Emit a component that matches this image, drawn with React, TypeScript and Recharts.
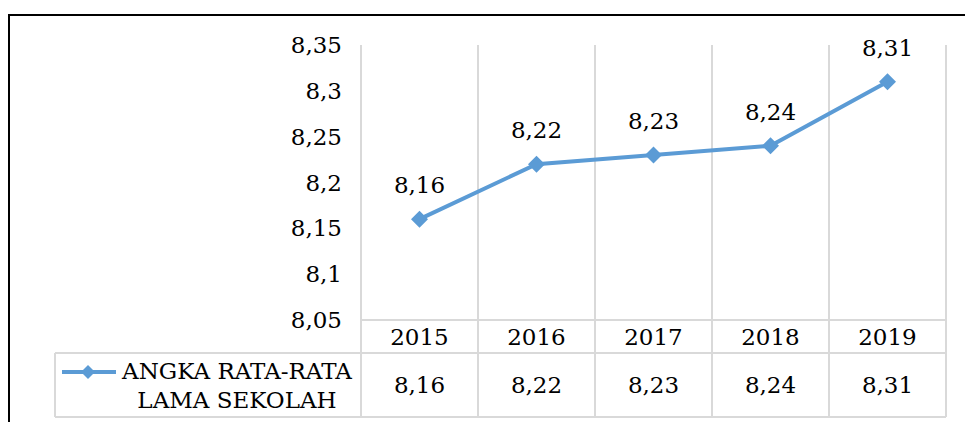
import { LineChart, Line, XAxis, YAxis, LabelList, usePlotArea } from "recharts";

const years = ["2015", "2016", "2017", "2018", "2019"];
const values = [8.16, 8.22, 8.23, 8.24, 8.31];
const yTicks = [8.05, 8.1, 8.15, 8.2, 8.25, 8.3, 8.35];
const legendLines = ["ANGKA RATA-RATA", "LAMA SEKOLAH"];

const data = years.map((year, i) => ({ year, value: values[i] }));

const FONT = "'DejaVu Serif', serif";
const FS = 23;
const BLUE = "#5B9BD5";
const GRID = "#d9d9d9";
const HEAD_ROW = 33;
const VALUE_ROW = 64;
const LEGEND_LEFT = 55;

const fmt = (v: number) => String(v).replace(".", ",");

const Diamond = ({ cx, cy, size = 8.5 }: { cx?: number; cy?: number; size?: number }) => {
  if (cx == null || cy == null) return null;
  return (
    <polygon
      points={`${cx},${cy - size} ${cx + size},${cy} ${cx},${cy + size} ${cx - size},${cy}`}
      fill={BLUE}
    />
  );
};

// year + value cells, placed by the x axis
const TableTick = (props: any) => {
  const { x, y, payload } = props;
  return (
    <g>
      <text x={x} y={y + HEAD_ROW / 2} textAnchor="middle" dominantBaseline="central" fontSize={FS} fill="#000" fontFamily={FONT}>
        {payload.value}
      </text>
      <text x={x} y={y + HEAD_ROW + VALUE_ROW / 2} textAnchor="middle" dominantBaseline="central" fontSize={FS} fill="#000" fontFamily={FONT}>
        {fmt(values[payload.index])}
      </text>
    </g>
  );
};

const TableGrid = () => {
  const area = usePlotArea();
  if (!area) return null;
  const { x, y, width, height } = area;
  const n = years.length;
  const bottom = y + height;
  const cols = Array.from({ length: n + 1 }, (_, i) => x + (i * width) / n);
  return (
    <g>
      {cols.map((cx, i) => (
        <line key={i} x1={cx} x2={cx} y1={y} y2={bottom + HEAD_ROW + VALUE_ROW} stroke={GRID} strokeWidth={2} />
      ))}
      <line x1={x} x2={x + width} y1={bottom} y2={bottom} stroke={GRID} strokeWidth={2} />
      <line x1={LEGEND_LEFT} x2={x + width} y1={bottom + HEAD_ROW} y2={bottom + HEAD_ROW} stroke={GRID} strokeWidth={2} />
      <line x1={LEGEND_LEFT} x2={x + width} y1={bottom + HEAD_ROW + VALUE_ROW} y2={bottom + HEAD_ROW + VALUE_ROW} stroke={GRID} strokeWidth={2} />
      <line x1={LEGEND_LEFT} x2={LEGEND_LEFT} y1={bottom + HEAD_ROW} y2={bottom + HEAD_ROW + VALUE_ROW} stroke={GRID} strokeWidth={2} />
      <line x1={LEGEND_LEFT + 7} x2={LEGEND_LEFT + 61} y1={bottom + 52} y2={bottom + 52} stroke={BLUE} strokeWidth={4} />
      <Diamond cx={LEGEND_LEFT + 33} cy={bottom + 52} size={7} />
      {legendLines.map((t, i) => (
        <text key={t} x={237} y={bottom + 51 + i * 29} textAnchor="middle" dominantBaseline="central" fontSize={FS} fill="#000" fontFamily={FONT}>
          {t}
        </text>
      ))}
    </g>
  );
};

export default function App() {
  return (
    <div style={{ position: "absolute", left: 0, top: 0, width: 965, height: 422, background: "#fff" }}>
      <div style={{ position: "absolute", left: 8, top: 14, width: 957, height: 2, background: "#000" }} />
      <div style={{ position: "absolute", left: 8, top: 14, width: 2, height: 408, background: "#000" }} />
      <LineChart width={965} height={422} data={data} margin={{ top: 45, right: 19, left: 281, bottom: 5 }}>
        <TableGrid />
        <XAxis
          dataKey="year"
          axisLine={false}
          tickLine={false}
          tickSize={0}
          tickMargin={0}
          height={97}
          padding={{ left: 58.5, right: 58.5 }}
          interval={0}
          tick={<TableTick />}
        />
        <YAxis
          domain={[8.05, 8.35]}
          ticks={yTicks}
          axisLine={false}
          tickLine={false}
          width={80}
          tickMargin={13}
          tickFormatter={fmt}
          tick={{ fontSize: FS, fill: "#000", fontFamily: FONT }}
        />
        <Line
          dataKey="value"
          stroke={BLUE}
          strokeWidth={4}
          dot={<Diamond />}
          activeDot={false}
          isAnimationActive={false}
        >
          <LabelList dataKey="value" position="top" offset={26} formatter={(v: any) => fmt(v)} fontSize={FS} fill="#000" fontFamily={FONT} />
        </Line>
      </LineChart>
    </div>
  );
}
